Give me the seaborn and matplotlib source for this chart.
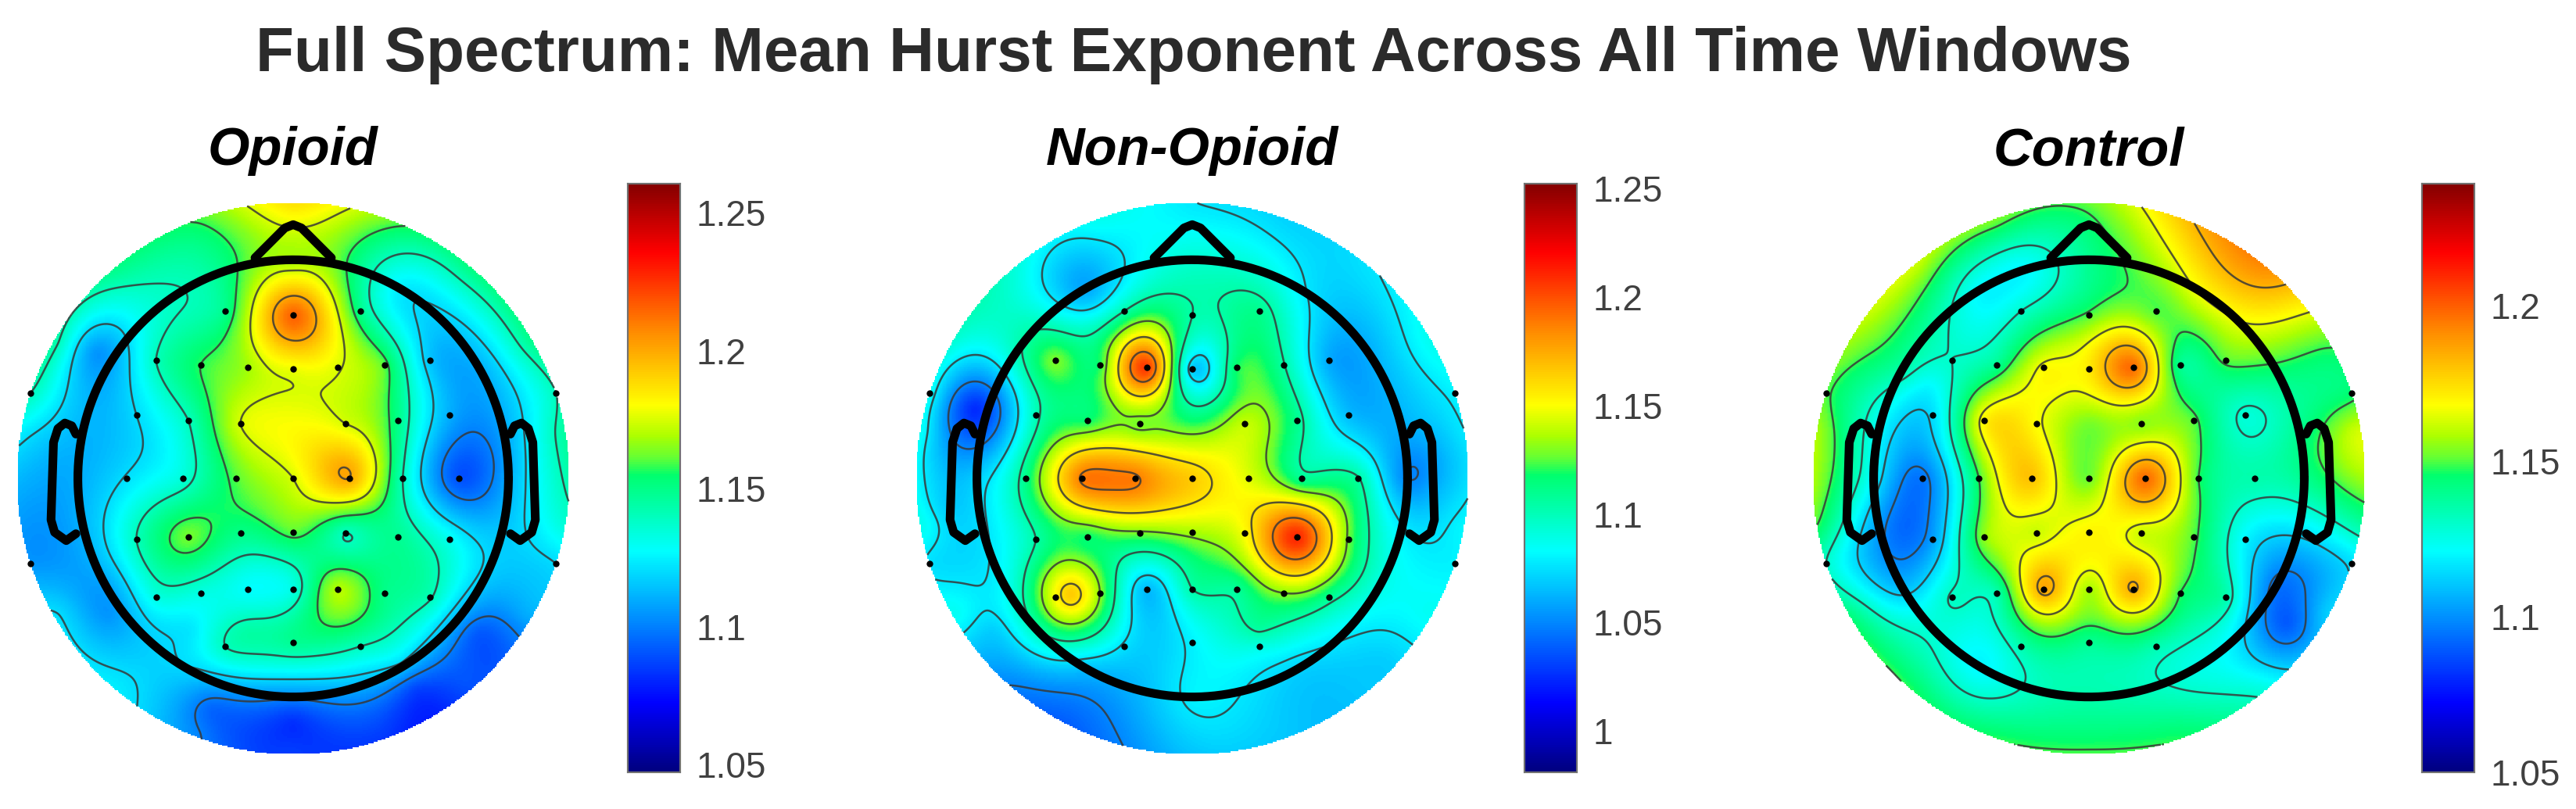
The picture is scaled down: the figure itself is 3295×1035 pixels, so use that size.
"""Topographic maps of the mean Hurst exponent for three groups."""
import matplotlib
matplotlib.use('Agg')
import matplotlib.pyplot as plt
import numpy as np
import seaborn as sns
from matplotlib.colors import LinearSegmentedColormap

PAGE_W, PAGE_H = 3295, 1035

# electrode positions on the unit disk, front to back
electrode_x = [-.245, 0, .243,
               -.495, -.334, -.164, 0, .16, .33, .495,
               -.95, .95,
               -.566, -.379, -.19, .19, .379, .566,
               -.602, -.398, -.206, 0, .202, .396, .6,
               -.566, -.379, -.19, 0, .19, .379, .566,
               -.95, .95,
               -.495, -.334, -.164, 0, .16, .33, .495,
               -.245, 0, .243]
electrode_y = [.605, .589, .605,
               .427, .411, .40, .396, .40, .411, .427,
               .308, .308,
               .228, .209, .197, .197, .209, .228,
               0, 0, 0, 0, 0, 0, 0,
               -.219, -.212, -.199, -.196, -.199, -.212, -.219,
               -.309, -.309,
               -.43, -.414, -.402, -.40, -.402, -.414, -.43,
               -.607, -.592, -.607]

# additional sampled spots outside the electrode cap (angle in degrees)
rim_angles = [90, 70, 50, 30, 10, -10, -30, -50, -70, -90,
              -110, -130, -150, -170, 170, 150, 130, 110]
mid_angles = [90, 60, 30, 0, -30, -60, -90, -120, -150, 180, 150, 120]

opioid_values = [1.15, 1.215, 1.15,
                 1.14, 1.157, 1.168, 1.178, 1.176, 1.16, 1.115,
                 1.14, 1.14,
                 1.12, 1.14, 1.175, 1.175, 1.15, 1.11,
                 1.121, 1.135, 1.16, 1.175, 1.20, 1.14, 1.09,
                 1.14, 1.162, 1.15, 1.16, 1.14, 1.148, 1.13,
                 1.105, 1.12,
                 1.133, 1.133, 1.128, 1.133, 1.17, 1.15, 1.141,
                 1.14, 1.148, 1.14]
opioid_rim = [1.185, 1.16, 1.148, 1.146, 1.143, 1.133, 1.11, 1.09, 1.085, 1.085,
              1.10, 1.123, 1.12, 1.105, 1.123, 1.14, 1.148, 1.157]
opioid_mid = [1.17, 1.123, 1.11, 1.11, 1.116, 1.118, 1.105, 1.12, 1.108, 1.11,
              1.108, 1.14]
opioid_extra_x = [-.713, -.66, 0, .44, .67, -.30, -.16, -.367, 0]
opioid_extra_y = [.456, -.488, -.88, -.76, -.56, -.83, -.546, -.546, .2]
opioid_extra = [1.105, 1.105, 1.083, 1.088, 1.092, 1.095, 1.144, 1.123, 1.18]

nonopioid_values = [1.104, 1.104, 1.11,
                    1.128, 1.12, 1.205, 1.07, 1.118, 1.105, 1.06,
                    1.085, 1.08,
                    1.10, 1.118, 1.128, 1.14, 1.11, 1.065,
                    1.112, 1.188, 1.188, 1.165, 1.145, 1.11, 1.105,
                    1.104, 1.118, 1.128, 1.135, 1.15, 1.21, 1.128,
                    1.075, 1.08,
                    1.15, 1.131, 1.065, 1.104, 1.108, 1.131, 1.11,
                    1.075, 1.08, 1.09]
nonopioid_rim = [1.078, 1.072, 1.075, 1.085, 1.075, 1.08, 1.085, 1.068, 1.068, 1.068,
                 1.045, 1.05, 1.085, 1.085, 1.08, 1.09, 1.09, 1.085]
nonopioid_mid = [1.095, 1.08, 1.062, 1.05, 1.09, 1.072, 1.08, 1.07, 1.085, 1.07,
                 1.08, 1.06]
nonopioid_extra_x = [-.444, -.785, -.39, .864, -.94, -.444, .24, 0, .19, .81,
                     .7, -.72, -.9]
nonopioid_extra_y = [-.422, .2525, .74, -.04, .09, -.85, -.55, .2, .31, .21,
                     -.65, -.55, -.1]
nonopioid_extra = [1.165, 1.025, 1.06, 1.06, 1.07, 1.042, 1.105, 1.12, 1.125, 1.065,
                   1.07, 1.07, 1.07]

control_values = [1.13, 1.15, 1.15,
                  1.13, 1.14, 1.168, 1.172, 1.197, 1.14, 1.15,
                  1.15, 1.145,
                  1.115, 1.17, 1.168, 1.155, 1.15, 1.128,
                  1.095, 1.148, 1.18, 1.152, 1.197, 1.148, 1.135,
                  1.103, 1.155, 1.162, 1.17, 1.162, 1.15, 1.12,
                  1.13, 1.115,
                  1.131, 1.135, 1.186, 1.158, 1.184, 1.148, 1.135,
                  1.135, 1.14, 1.135]
control_rim = [1.15, 1.178, 1.19, 1.15, 1.162, 1.135, 1.11, 1.125, 1.145, 1.148,
               1.145, 1.145, 1.14, 1.145, 1.155, 1.155, 1.16, 1.15]
control_mid = [1.14, 1.166, 1.145, 1.14, 1.095, 1.125, 1.135, 1.12, 1.108, 1.12,
               1.135, 1.12]
control_extra_x = [-.24, .76, -.69, -.58, .72, 0]
control_extra_y = [.753, -.444, -.183, .33, -.53, .2]
control_extra = [1.12, 1.095, 1.093, 1.12, 1.09, 1.153]

group_names = ['Opioid', 'Non-Opioid', 'Control']
group_values = [opioid_values, nonopioid_values, control_values]
group_rims = [opioid_rim, nonopioid_rim, control_rim]
group_mids = [opioid_mid, nonopioid_mid, control_mid]
group_extra_x = [opioid_extra_x, nonopioid_extra_x, control_extra_x]
group_extra_y = [opioid_extra_y, nonopioid_extra_y, control_extra_y]
group_extras = [opioid_extra, nonopioid_extra, control_extra]

color_limits = [(1.0472, 1.2605), (0.981, 1.2522), (1.05, 1.2393)]
cbar_ticks = [[1.05, 1.1, 1.15, 1.2, 1.25],
              [1, 1.05, 1.1, 1.15, 1.2, 1.25],
              [1.05, 1.1, 1.15, 1.2]]
cbar_labels = [['1.05', '1.1', '1.15', '1.2', '1.25'],
               ['1', '1.05', '1.1', '1.15', '1.2', '1.25'],
               ['1.05', '1.1', '1.15', '1.2']]
contour_levels = [[1.10, 1.12, 1.14, 1.157, 1.175, 1.20],
                  [1.05, 1.077, 1.104, 1.131, 1.158, 1.186],
                  [1.098, 1.113, 1.13, 1.148, 1.166, 1.183]]

# pixel boxes of the disks and the colour bars
disk_centres = [375, 1525, 2672]
disk_cy, disk_r = 612, 354
cbar_left = [803, 1950, 3098]
cbar_width = 67
cbar_top, cbar_bottom = 235, 988

HOT_COLD = LinearSegmentedColormap.from_list('scalp', [
    (0.0, (0, 0, 0.50)), (0.117, (0, 0, 1)), (0.376, (0, 1, 1)),
    (0.505, (0, 1, 0.43)), (0.535, (0.40, 1, 0.20)), (0.571, (0.67, 1, 0)),
    (0.624, (1, 1, 0)), (0.748, (1, 0.55, 0)), (0.884, (1, 0, 0)),
    (1.0, (0.52, 0, 0)),
])


def px_axes(fig, left, top, width, height):
    return fig.add_axes([left / PAGE_W, 1 - (top + height) / PAGE_H,
                         width / PAGE_W, height / PAGE_H])


def thin_plate(px, py, values, gx, gy):
    """Smooth surface through the sampled points, as a topoplot does."""
    px, py, values = np.asarray(px), np.asarray(py), np.asarray(values)
    n = len(px)

    def kernel(d2):
        return 0.5 * d2 * np.log(np.maximum(d2, 1e-12))

    d2 = (px[:, None] - px[None, :]) ** 2 + (py[:, None] - py[None, :]) ** 2
    poly = np.column_stack([np.ones(n), px, py])
    system = np.block([[kernel(d2), poly], [poly.T, np.zeros((3, 3))]])
    coef = np.linalg.solve(system, np.concatenate([values, np.zeros(3)]))
    g2 = (gx[..., None] - px) ** 2 + (gy[..., None] - py) ** 2
    return (kernel(g2) @ coef[:n] + coef[n] + coef[n + 1] * gx
            + coef[n + 2] * gy)


def draw_head(ax):
    theta = np.linspace(0, 2 * np.pi, 400)
    style = dict(color='black', lw=8, solid_joinstyle='round',
                 solid_capstyle='round', zorder=5)
    ax.plot(0.778 * np.cos(theta), 0.79 * np.sin(theta), **style)
    ax.plot([-.138, -.03, 0, .03, .138], [.797, .905, .917, .905, .797], **style)
    ear_x = np.array([.785, .80, .825, .85, .866, .875, .862, .82, .785])
    ear_y = [.16, .19, .20, .18, .13, -.15, -.195, -.225, -.20]
    ax.plot(ear_x, ear_y, **style)
    ax.plot(-ear_x, ear_y, **style)


def draw_panel(fig, i, gx, gy, inside):
    rim = np.radians(rim_angles)
    mid = np.radians(mid_angles)
    px = np.concatenate([electrode_x, 0.98 * np.cos(rim), 0.78 * np.cos(mid),
                         group_extra_x[i]])
    py = np.concatenate([electrode_y, 0.98 * np.sin(rim), 0.78 * np.sin(mid),
                         group_extra_y[i]])
    vals = np.concatenate([group_values[i], group_rims[i], group_mids[i],
                           group_extras[i]])
    surface = thin_plate(px, py, vals, gx, gy)

    left = disk_centres[i] - disk_r
    top = disk_cy - disk_r
    size = 2 * disk_r
    ax_map = px_axes(fig, left, top, size, size)
    ax_bar = px_axes(fig, cbar_left[i], cbar_top, cbar_width,
                     cbar_bottom - cbar_top)
    vmin, vmax = color_limits[i]
    sns.heatmap(surface[::-1], mask=~inside[::-1], cmap=HOT_COLD, vmin=vmin,
                vmax=vmax, ax=ax_map, cbar_ax=ax_bar, xticklabels=False,
                yticklabels=False, rasterized=True)
    ax_map.set_axis_off()

    ax_bar.set_yticks(cbar_ticks[i], cbar_labels[i])
    ax_bar.tick_params(axis='y', direction='in', length=6, width=1.2,
                       color='#303030', labelsize=33, labelcolor='#404040',
                       pad=15, right=True, left=False)
    for spine in ax_bar.spines.values():
        spine.set_visible(True)
        spine.set_color('#707070')
        spine.set_linewidth(1.5)

    ax = px_axes(fig, left, top, size, size)
    ax.patch.set_alpha(0)
    ax.set_xlim(-1, 1)
    ax.set_ylim(-1, 1)
    ax.set_axis_off()
    ax.contour(gx, gy, np.where(inside, surface, np.nan),
               levels=contour_levels[i], colors='#383838', linewidths=1.8,
               linestyles='solid', alpha=0.85, zorder=3)
    draw_head(ax)
    sns.scatterplot(x=electrode_x, y=electrode_y, ax=ax, color='black', s=36,
                    linewidth=0, zorder=6, legend=False)

    fig.text(disk_centres[i] / PAGE_W, 1 - 193 / PAGE_H, group_names[i],
             ha='center', va='center', fontsize=49.5, fontweight='bold',
             fontstyle='italic', color='black')


def main():
    sns.set_theme(style='white')
    plt.rcParams['font.family'] = ['Liberation Sans', 'DejaVu Sans']

    fig = plt.figure(figsize=(PAGE_W / 100, PAGE_H / 100), dpi=100)
    axis = np.linspace(-1, 1, 420)
    gx, gy = np.meshgrid(axis, axis)
    inside = gx ** 2 + gy ** 2 <= 1

    for i in range(len(group_names)):
        draw_panel(fig, i, gx, gy, inside)

    fig.text(1527 / PAGE_W, 1 - 70 / PAGE_H,
             'Full Spectrum: Mean Hurst Exponent Across All Time Windows',
             ha='center', va='center', fontsize=57.7, fontweight='bold',
             color='#2b2b2b')
    fig.savefig('out.png', dpi=100)
    plt.close(fig)


if __name__ == '__main__':
    main()
